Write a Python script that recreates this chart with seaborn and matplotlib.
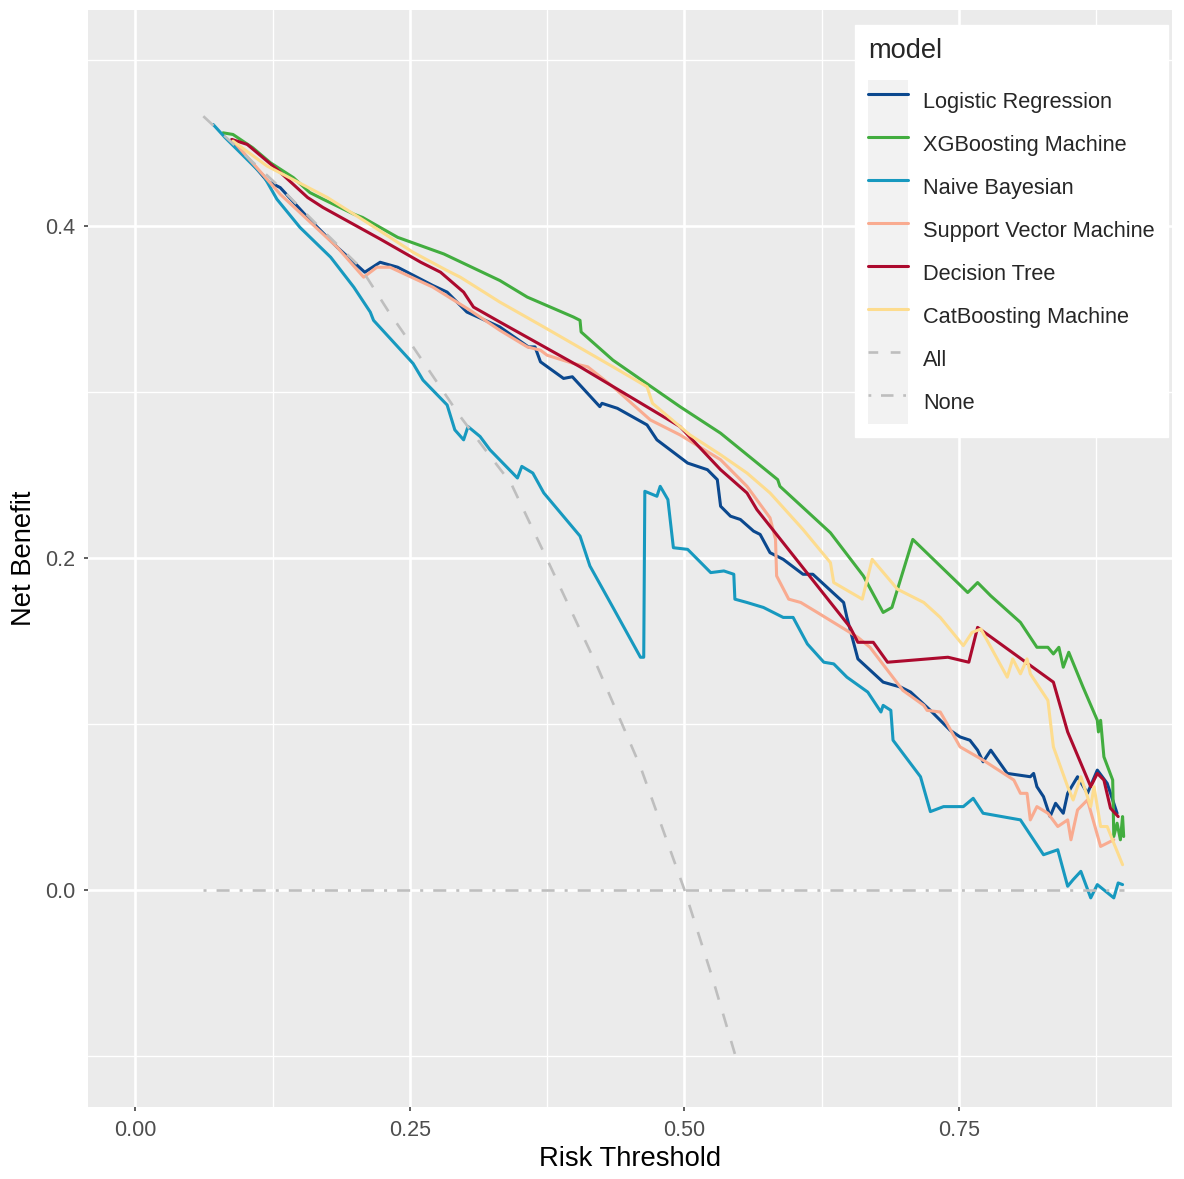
import matplotlib
matplotlib.use("Agg")
import matplotlib.pyplot as plt
from matplotlib.patches import Rectangle
from matplotlib.lines import Line2D
from matplotlib.legend_handler import HandlerTuple
from matplotlib.ticker import MultipleLocator, FormatStrFormatter
import seaborn as sns
import pandas as pd

# ---- data ----
models = ["Logistic Regression", "XGBoosting Machine", "Naive Bayesian",
          "Support Vector Machine", "Decision Tree", "CatBoosting Machine"]
colors = ["#0B488E", "#42AD3F", "#1799BF", "#F9AB90", "#AC0A2E", "#FDDC8E"]

lr_x = [0.088, 0.120, 0.132, 0.157, 0.184, 0.209, 0.223, 0.239, 0.271, 0.284, 0.302, 0.332, 0.358, 0.364, 0.369,
        0.390, 0.398, 0.423, 0.425, 0.439, 0.466, 0.475, 0.503, 0.521, 0.530, 0.533, 0.542, 0.551, 0.563, 0.569,
        0.578, 0.590, 0.608, 0.617, 0.645, 0.648, 0.658, 0.681, 0.697, 0.706, 0.724, 0.742, 0.751, 0.760, 0.767,
        0.772, 0.779, 0.794, 0.815, 0.818, 0.821, 0.827, 0.833, 0.838, 0.845, 0.849, 0.858, 0.867, 0.876, 0.885,
        0.888, 0.894]
lr_y = [0.452, 0.427, 0.423, 0.405, 0.387, 0.372, 0.378, 0.375, 0.364, 0.360, 0.348, 0.339, 0.327, 0.327, 0.318,
        0.308, 0.309, 0.291, 0.293, 0.290, 0.280, 0.271, 0.257, 0.253, 0.247, 0.231, 0.225, 0.223, 0.216, 0.214,
        0.203, 0.199, 0.190, 0.190, 0.173, 0.164, 0.139, 0.125, 0.122, 0.119, 0.108, 0.096, 0.092, 0.090, 0.084,
        0.077, 0.084, 0.070, 0.068, 0.070, 0.062, 0.056, 0.044, 0.052, 0.046, 0.058, 0.068, 0.058, 0.072, 0.064,
        0.058, 0.046]

xgb_x = [0.080, 0.089, 0.107, 0.123, 0.144, 0.159, 0.171, 0.199, 0.207, 0.223, 0.239, 0.281, 0.332, 0.357, 0.399,
         0.405, 0.406, 0.435, 0.496, 0.533, 0.585, 0.587, 0.633, 0.663, 0.681, 0.689, 0.708, 0.733, 0.758, 0.767,
         0.779, 0.806, 0.821, 0.831, 0.836, 0.841, 0.845, 0.850, 0.863, 0.876, 0.877, 0.879, 0.882, 0.890, 0.891,
         0.894, 0.897, 0.899, 0.900]
xgb_y = [0.456, 0.455, 0.447, 0.438, 0.429, 0.420, 0.416, 0.407, 0.405, 0.399, 0.393, 0.383, 0.367, 0.357, 0.345,
         0.343, 0.336, 0.319, 0.291, 0.275, 0.247, 0.243, 0.215, 0.189, 0.167, 0.170, 0.211, 0.195, 0.179, 0.185,
         0.177, 0.161, 0.146, 0.146, 0.142, 0.146, 0.134, 0.143, 0.122, 0.102, 0.095, 0.102, 0.080, 0.066, 0.032,
         0.040, 0.030, 0.044, 0.032]

nb_x = [0.071, 0.082, 0.117, 0.129, 0.150, 0.178, 0.199, 0.214, 0.217, 0.253, 0.262, 0.284, 0.291, 0.299, 0.303,
        0.314, 0.323, 0.348, 0.352, 0.362, 0.372, 0.405, 0.414, 0.435, 0.460, 0.463, 0.464, 0.475, 0.478, 0.485,
        0.490, 0.503, 0.524, 0.536, 0.545, 0.546, 0.557, 0.572, 0.590, 0.599, 0.612, 0.627, 0.636, 0.648, 0.667,
        0.679, 0.681, 0.688, 0.690, 0.715, 0.724, 0.736, 0.754, 0.763, 0.772, 0.806, 0.827, 0.840, 0.849, 0.854,
        0.861, 0.870, 0.876, 0.891, 0.895, 0.899]
nb_y = [0.461, 0.453, 0.430, 0.416, 0.399, 0.381, 0.363, 0.348, 0.343, 0.317, 0.307, 0.292, 0.277, 0.271, 0.279,
        0.273, 0.265, 0.248, 0.255, 0.251, 0.239, 0.213, 0.195, 0.170, 0.140, 0.140, 0.240, 0.237, 0.243, 0.235,
        0.206, 0.205, 0.191, 0.192, 0.190, 0.175, 0.173, 0.170, 0.164, 0.164, 0.148, 0.137, 0.136, 0.128, 0.119,
        0.107, 0.111, 0.108, 0.090, 0.068, 0.047, 0.050, 0.050, 0.055, 0.046, 0.042, 0.021, 0.024, 0.002, 0.006,
        0.011, -0.005, 0.003, -0.005, 0.004, 0.003]

svm_x = [0.088, 0.132, 0.184, 0.208, 0.220, 0.232, 0.271, 0.305, 0.332, 0.357, 0.369, 0.375, 0.399, 0.412, 0.435,
         0.469, 0.481, 0.496, 0.533, 0.557, 0.578, 0.583, 0.584, 0.595, 0.606, 0.621, 0.658, 0.669, 0.699, 0.718,
         0.721, 0.733, 0.740, 0.751, 0.772, 0.800, 0.806, 0.812, 0.815, 0.821, 0.831, 0.840, 0.849, 0.852, 0.858,
         0.867, 0.879, 0.891]
svm_y = [0.452, 0.419, 0.387, 0.369, 0.375, 0.375, 0.363, 0.349, 0.337, 0.327, 0.325, 0.322, 0.317, 0.315, 0.303,
         0.283, 0.279, 0.274, 0.259, 0.243, 0.224, 0.211, 0.189, 0.175, 0.173, 0.167, 0.152, 0.146, 0.120, 0.111,
         0.108, 0.107, 0.099, 0.086, 0.078, 0.066, 0.058, 0.058, 0.042, 0.050, 0.046, 0.038, 0.042, 0.030, 0.048,
         0.054, 0.026, 0.030]

dt_x = [0.088, 0.102, 0.129, 0.157, 0.171, 0.223, 0.260, 0.278, 0.299, 0.308, 0.332, 0.405, 0.496, 0.533, 0.557,
        0.566, 0.651, 0.658, 0.672, 0.685, 0.740, 0.759, 0.767, 0.836, 0.849, 0.870, 0.876, 0.882, 0.888, 0.895]
dt_y = [0.452, 0.449, 0.434, 0.417, 0.411, 0.392, 0.378, 0.372, 0.360, 0.351, 0.342, 0.315, 0.279, 0.253, 0.239,
        0.229, 0.158, 0.149, 0.149, 0.137, 0.140, 0.137, 0.158, 0.125, 0.095, 0.062, 0.070, 0.066, 0.049, 0.044]

cat_x = [0.089, 0.120, 0.175, 0.211, 0.253, 0.284, 0.296, 0.332, 0.372, 0.435, 0.466, 0.471, 0.505, 0.533, 0.557,
         0.578, 0.608, 0.633, 0.636, 0.662, 0.671, 0.694, 0.718, 0.733, 0.754, 0.762, 0.770, 0.794, 0.799, 0.806,
         0.812, 0.815, 0.831, 0.836, 0.849, 0.854, 0.861, 0.870, 0.873, 0.879, 0.885, 0.891, 0.899]
cat_y = [0.451, 0.436, 0.417, 0.402, 0.384, 0.373, 0.369, 0.354, 0.339, 0.315, 0.303, 0.293, 0.274, 0.262, 0.251,
         0.239, 0.217, 0.197, 0.185, 0.175, 0.199, 0.181, 0.173, 0.164, 0.147, 0.155, 0.157, 0.128, 0.139, 0.130,
         0.139, 0.130, 0.114, 0.086, 0.062, 0.054, 0.068, 0.050, 0.062, 0.038, 0.038, 0.028, 0.015]

all_x = [0.062, 0.132, 0.168, 0.205, 0.230, 0.253, 0.296, 0.321, 0.342, 0.375, 0.421, 0.460, 0.500, 0.525, 0.546]
all_y = [0.466, 0.423, 0.399, 0.375, 0.349, 0.327, 0.285, 0.263, 0.245, 0.199, 0.134, 0.074, 0.000, -0.052, -0.099]

none_x = [0.062, 0.900]
none_y = [0.0, 0.0]

series = [(lr_x, lr_y), (xgb_x, xgb_y), (nb_x, nb_y), (svm_x, svm_y), (dt_x, dt_y), (cat_x, cat_y)]
df = pd.concat([pd.DataFrame({"threshold": sx, "net_benefit": sy, "model": name})
                for name, (sx, sy) in zip(models, series)], ignore_index=True)
df_all = pd.DataFrame({"threshold": all_x, "net_benefit": all_y})
df_none = pd.DataFrame({"threshold": none_x, "net_benefit": none_y})

# ---- style (ggplot2 grey look) ----
sns.set_theme(style="darkgrid", rc={
    "axes.facecolor": "#EBEBEB",
    "grid.color": "white",
    "lines.scale_dashes": False,
})
plt.rcParams["font.family"] = ["Liberation Sans", "DejaVu Sans"]

fig = plt.figure(figsize=(11.84, 11.79), dpi=100)
ax = fig.add_axes([88 / 1184, 1 - 1107 / 1179, 1084 / 1184, 1097 / 1179])

grey = "#BEBEBE"
all_dash = (0, (10, 10.5))
none_dash = (0, (2.2, 7.2, 9.4, 7.2))

sns.lineplot(data=df, x="threshold", y="net_benefit", hue="model", hue_order=models,
             palette=colors, estimator=None, linewidth=2.2, legend=False, ax=ax)
sns.lineplot(data=df_all, x="threshold", y="net_benefit", color=grey, linewidth=1.9,
             linestyle=all_dash, estimator=None, ax=ax)
sns.lineplot(data=df_none, x="threshold", y="net_benefit", color=grey, linewidth=1.9,
             linestyle=none_dash, estimator=None, ax=ax)

ax.set_xlim(-0.043, 0.944)
ax.set_ylim(-0.131, 0.530)
ax.xaxis.set_major_locator(MultipleLocator(0.25))
ax.xaxis.set_minor_locator(MultipleLocator(0.125))
ax.yaxis.set_major_locator(MultipleLocator(0.2))
ax.yaxis.set_minor_locator(MultipleLocator(0.1))
ax.xaxis.set_major_formatter(FormatStrFormatter("%.2f"))
ax.yaxis.set_major_formatter(FormatStrFormatter("%.1f"))
ax.grid(which="major", color="white", linewidth=1.9)
ax.grid(which="minor", color="white", linewidth=0.95)
ax.set_axisbelow(True)
for s in ax.spines.values():
    s.set_visible(False)
ax.tick_params(which="major", bottom=True, left=True, length=3.2, width=1.1,
               color="#333333", labelcolor="#4D4D4D", labelsize=15.5, pad=6)
ax.tick_params(which="minor", bottom=False, left=False, length=0)

ax.set_xlabel("Risk Threshold", fontsize=19.7, color="black", labelpad=4)
ax.set_ylabel("Net Benefit", fontsize=19.7, color="black", labelpad=6)

# ---- legend with grey key boxes like ggplot ----
fs = 15.7
fpx = fs * 100 / 72
key_h = 43 / fpx  # wanted total key height in font units
hh = (key_h - 0.245) / 0.65  # matplotlib subtracts a descent from handleheight
handles = []
for c in colors:
    handles.append((Rectangle((0, 0), 1, 1, facecolor="#F2F2F2", edgecolor="none"),
                    Line2D([], [], color=c, linewidth=2.2)))
handles.append((Rectangle((0, 0), 1, 1, facecolor="#F2F2F2", edgecolor="none"),
                Line2D([], [], color=grey, linewidth=1.9, linestyle=(0, (7, 9)))))
handles.append((Rectangle((0, 0), 1, 1, facecolor="#F2F2F2", edgecolor="none"),
                Line2D([], [], color=grey, linewidth=1.9, linestyle=(0, (2, 7, 9, 7)))))
labels = models + ["All", "None"]
leg = ax.legend(handles, labels, handler_map={tuple: HandlerTuple(ndivide=1)},
                title="model", title_fontsize=19.6, fontsize=fs,
                loc="upper right", bbox_to_anchor=(1168 / 1184, 1 - 25 / 1179),
                bbox_transform=fig.transFigure, borderaxespad=0,
                handlelength=40 / fpx, handleheight=hh, labelspacing=0,
                handletextpad=15 / fpx, borderpad=0.6, frameon=True, fancybox=False,
                facecolor="white", edgecolor="white", framealpha=1, alignment="left")
# gap between the title and the keys (labelspacing=0 leaves none)
leg._legend_box.sep = 11.5

fig.savefig("out.png", dpi=100)
